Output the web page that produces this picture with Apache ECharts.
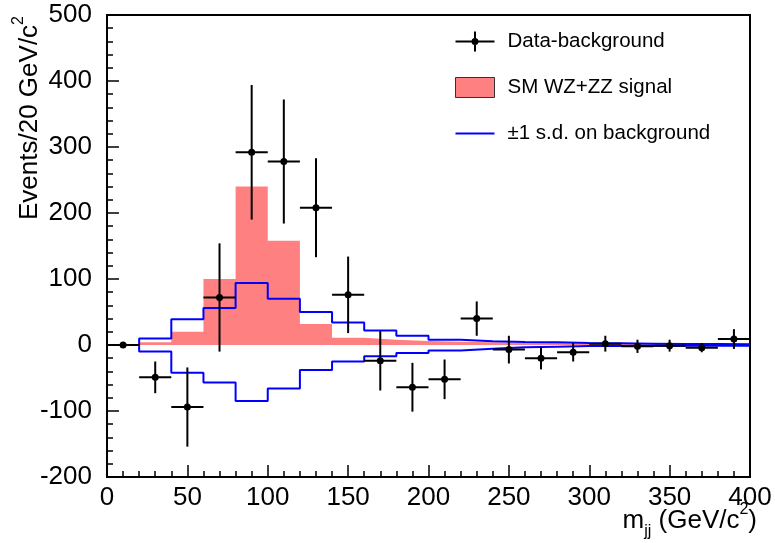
<!DOCTYPE html>
<html><head><meta charset="utf-8">
<script src="https://cdn.jsdelivr.net/npm/echarts@6/dist/echarts.min.js"></script>
<style>html,body{margin:0;padding:0;background:#fff}#c{width:775px;height:543px}</style>
</head><body><div id="c"></div>
<script>
// ---- data ----
const binEdges = [0,20,40,60,80,100,120,140,160,180,200,220,240,260,280,300,320,340,360,380,400];
const binCenters = [10,30,50,70,90,110,130,150,170,190,210,230,250,270,290,310,330,350,370,390];
const dataValues = [0,-49,-94,72,292,278,208,76,-24,-64,-52,40,-7,-20,-11,2,-2,-1,-4,9];
const dataErrors = [2,24,60,82,102,94,75,58,45,37,30,26,21,17,14,12,10,9,7,15];
const signalValues = [0,4,20,100,240,158,32,11,8,6,5,4,3.5,3,2,1.5,1,1,0.5,0.5];
const bandUpper = [0,10,39,56,94,70,50,34,22,14,8,5.5,4.5,4,3,2.5,2,1.5,1.5,1];
const bandLower = [0,-10,-42,-57,-85,-66,-38,-25,-17,-12,-8.5,-5.5,-3.5,-2.5,-1.5,-1.5,-1,-1,-1,-1];
const xTickValues = [0,50,100,150,200,250,300,350,400];
const yTickValues = [-200,-100,0,100,200,300,400,500];
const seriesNames = ['Data-background','SM WZ+ZZ signal','\u00b11 s.d. on background'];

// ---- helpers ----
const binWidth = binEdges[1] - binEdges[0];
function stepData(vals){
  const d = vals.map((v,i)=>[binEdges[i], v]);
  d.push([binEdges[vals.length], vals[vals.length-1]]);
  return d;
}
const pointData = binCenters.map((x,i)=>[x, dataValues[i], dataErrors[i]]);
const FONT = 'Liberation Sans, Arial, sans-serif';

const chart = echarts.init(document.getElementById('c'), null, {renderer:'canvas'});
chart.setOption({
  animation:false,
  backgroundColor:'#fff',
  grid:{left:107,right:25,top:15,bottom:66,show:true,borderColor:'#000',borderWidth:2,backgroundColor:'transparent',containLabel:false,outerBoundsMode:'none'},
  xAxis:{
    type:'value', min:xTickValues[0], max:xTickValues[xTickValues.length-1], interval:50,
    axisLine:{show:true,onZero:false,lineStyle:{color:'#000',width:2}},
    axisTick:{show:true,inside:true,length:12,lineStyle:{color:'#000',width:1.5}},
    minorTick:{show:true,splitNumber:5,length:6,lineStyle:{color:'#000',width:1.5}},
    splitLine:{show:false},
    axisLabel:{color:'#000',fontSize:26,fontFamily:FONT,margin:8,showMinLabel:true,showMaxLabel:true,hideOverlap:false}
  },
  yAxis:{
    type:'value', min:yTickValues[0], max:yTickValues[yTickValues.length-1], interval:100,
    axisLine:{show:true,onZero:false,lineStyle:{color:'#000',width:2}},
    axisTick:{show:true,inside:true,length:12,lineStyle:{color:'#000',width:1.5}},
    minorTick:{show:true,splitNumber:5,length:6,lineStyle:{color:'#000',width:1.5}},
    splitLine:{show:false},
    axisLabel:{color:'#000',fontSize:26,fontFamily:FONT,margin:15,showMinLabel:true,showMaxLabel:true,hideOverlap:false}
  },
  legend:{
    orient:'vertical', left:450, top:26, itemWidth:39, itemHeight:20, itemGap:25,
    symbolKeepAspect:true,
    textStyle:{color:'#000',fontSize:20.5,fontFamily:FONT,padding:[0,0,0,8]},
    selectedMode:false,
    data:[
      {name:seriesNames[0], icon:'path://M0,9h39v2h-39z M18.5,0h2v20h-2z M23,10a3.5,3.5 0 1,1 -7,0a3.5,3.5 0 1,1 7,0z', itemStyle:{color:'#000',borderWidth:0}},
      {name:seriesNames[1], icon:'rect', itemStyle:{color:'#ff8080',borderColor:'#333',borderWidth:1}},
      {name:seriesNames[2], icon:'path://M0,0h39v2h-39z', itemStyle:{color:'#0000ff',borderWidth:0}}
    ]
  },
  series:[
    {name:seriesNames[1], type:'line', step:'end', data:stepData(signalValues), symbol:'none',
     lineStyle:{width:0,color:'#ff8080'}, itemStyle:{color:'#ff8080'},
     areaStyle:{color:'#ff8080',opacity:1}, z:1},
    {name:seriesNames[2], type:'line', step:'end', data:stepData(bandUpper), symbol:'none',
     lineStyle:{width:2,color:'#0000ff'}, itemStyle:{color:'#0000ff'}, z:2},
    {name:seriesNames[2], type:'line', step:'end', data:stepData(bandLower), symbol:'none',
     lineStyle:{width:2,color:'#0000ff'}, itemStyle:{color:'#0000ff'}, z:2},
    {name:seriesNames[0], type:'custom', data:pointData, itemStyle:{color:'#000'}, z:3, clip:true,
     encode:{x:0,y:1},
     renderItem:function(params, api){
       const x = api.value(0), y = api.value(1), e = api.value(2);
       const c = api.coord([x,y]);
       const l = api.coord([x-binWidth/2,y]), r = api.coord([x+binWidth/2,y]);
       const t = api.coord([x,y+e]), b = api.coord([x,y-e]);
       const st = {stroke:'#000',lineWidth:2};
       return {type:'group',children:[
         {type:'line',shape:{x1:l[0],y1:l[1],x2:r[0],y2:r[1]},style:st},
         {type:'line',shape:{x1:t[0],y1:t[1],x2:b[0],y2:b[1]},style:st},
         {type:'circle',shape:{cx:c[0],cy:c[1],r:3.5},style:{fill:'#000'}}
       ]};
     }}
  ],
  graphic:[
    {type:'text', right:18, top:502, style:{
      text:'{a|m}{s|jj}{a| (GeV/c}{p|2}{a|)}', fill:'#000', fontFamily:FONT, fontSize:26,
      rich:{a:{fontSize:26,fontFamily:FONT,lineHeight:38,verticalAlign:'middle'},
            s:{fontSize:16,fontFamily:FONT,lineHeight:38,verticalAlign:'bottom'},
            p:{fontSize:16,fontFamily:FONT,lineHeight:38,verticalAlign:'top'}}}},
    {type:'text', x:30, y:16, rotation:Math.PI/2, style:{
      text:'{a|Events/20 GeV/c}{p|2}', fill:'#000', fontFamily:FONT, fontSize:26, align:'right', verticalAlign:'middle',
      rich:{a:{fontSize:26,fontFamily:FONT,lineHeight:38,verticalAlign:'middle'},
            p:{fontSize:16,fontFamily:FONT,lineHeight:38,verticalAlign:'top'}}}}
  ]
});
</script></body></html>
